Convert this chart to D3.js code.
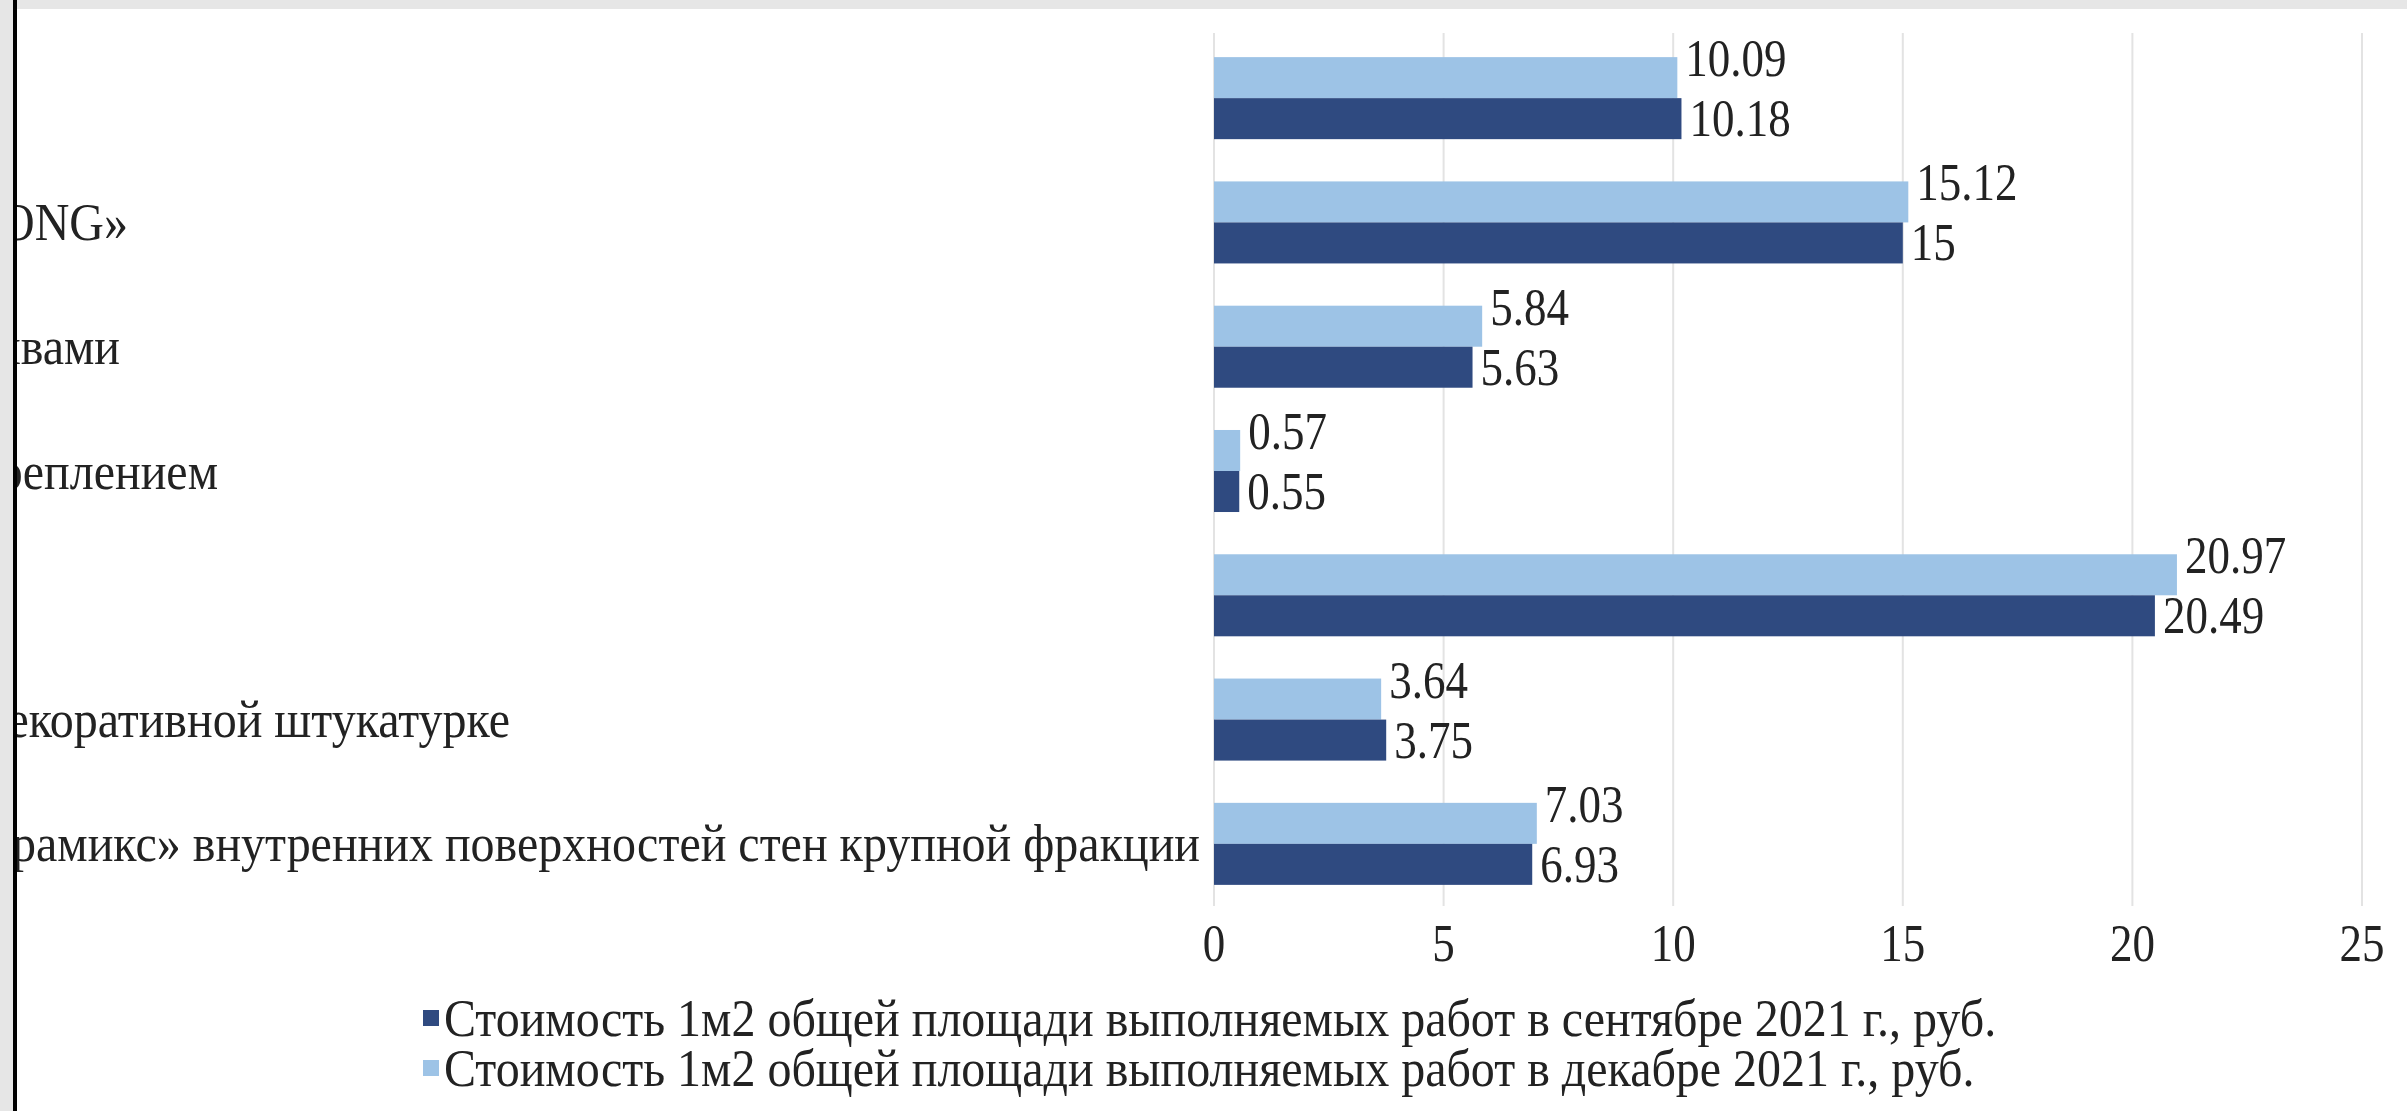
<!DOCTYPE html>
<html>
<head>
<meta charset="utf-8">
<script src="https://cdn.jsdelivr.net/npm/d3@7"></script>
<style>
  html, body { margin: 0; padding: 0; background: #fff; }
  svg { display: block; }
</style>
</head>
<body>
<svg id="chart" width="2407" height="1111"></svg>
<script>
// ---- data ----
const categories = ["cat1", "cat2", "cat3", "cat4", "cat5", "cat6", "cat7"];
const categoryLabels = ["", "ONG»", "швами", "креплением", "", "декоративной штукатурке", "Церамикс» внутренних поверхностей стен крупной фракции"];
const decValues = [10.09, 15.12, 5.84, 0.57, 20.97, 3.64, 7.03];
const sepValues = [10.18, 15, 5.63, 0.55, 20.49, 3.75, 6.93];
const decLabels = ["10.09", "15.12", "5.84", "0.57", "20.97", "3.64", "7.03"];
const sepLabels = ["10.18", "15", "5.63", "0.55", "20.49", "3.75", "6.93"];
const xTicks = [0, 5, 10, 15, 20, 25];
const legendLabels = [
  "Стоимость 1м2 общей площади выполняемых работ в сентябре 2021 г., руб.",
  "Стоимость 1м2 общей площади выполняемых работ в декабре 2021 г., руб."
];

// ---- styles ----
const W = 2407, H = 1111;
const colDark = "#2F4A80", colLight = "#9DC3E6";
const FONT = "'Liberation Serif', 'DejaVu Serif', serif";

const svg = d3.select("#chart");

// frame
svg.append("rect").attr("x", 0).attr("y", 0).attr("width", W).attr("height", H).attr("fill", "#fff");
svg.append("rect").attr("x", 0).attr("y", 0).attr("width", W).attr("height", 9).attr("fill", "#E6E6E6");
svg.append("rect").attr("x", 0).attr("y", 0).attr("width", 13).attr("height", H).attr("fill", "#E6E6E6");

const defs = svg.append("defs");
defs.append("clipPath").attr("id", "clipL")
  .append("rect").attr("x", 17).attr("y", 9).attr("width", W).attr("height", H);

const x = d3.scaleLinear().domain([0, 25]).range([1214, 2362]);
const y = d3.scaleBand().domain(categories).range([36, 906]).paddingInner(0.34).paddingOuter(0.17);
const sub = d3.scaleBand().domain(["dec", "sep"]).range([0, y.bandwidth()]);

function stext(g, tx, cy, str, anchor, fs, sy) {
  // cy = visual vertical centre of capitals
  return g.append("text")
    .attr("transform", `translate(${tx},${cy + 17.5}) scale(1,${sy})`)
    .attr("font-family", FONT)
    .attr("font-size", fs)
    .attr("fill", "#222")
    .attr("text-anchor", anchor || "start")
    .text(str);
}
const NUM_FS = 45, NUM_SY = 1.17;
const TXT_FS = 48, TXT_SY = 1.1;

// gridlines
const grid = svg.append("g");
grid.selectAll("line").data(xTicks).join("line")
  .attr("x1", d => x(d)).attr("x2", d => x(d))
  .attr("y1", 33).attr("y2", 906)
  .attr("stroke", "#E3E3E3").attr("stroke-width", 2);

// bars
const bars = svg.append("g");
categories.forEach((c, i) => {
  bars.append("rect")
    .attr("x", x(0)).attr("y", y(c) + sub("dec"))
    .attr("width", x(decValues[i]) - x(0)).attr("height", sub.bandwidth())
    .attr("fill", colLight);
  bars.append("rect")
    .attr("x", x(0)).attr("y", y(c) + sub("sep"))
    .attr("width", x(sepValues[i]) - x(0)).attr("height", sub.bandwidth())
    .attr("fill", colDark);
});

// data labels
const lab = svg.append("g");
categories.forEach((c, i) => {
  const cyDec = y(c) + sub("dec") + sub.bandwidth() / 2 - 19;
  const cySep = y(c) + sub("sep") + sub.bandwidth() / 2;
  stext(lab, x(decValues[i]) + 8, cyDec, decLabels[i], "start", NUM_FS, NUM_SY);
  stext(lab, x(sepValues[i]) + 8, cySep, sepLabels[i], "start", NUM_FS, NUM_SY);
});

// x tick labels
const ticks = svg.append("g");
xTicks.forEach(t => stext(ticks, x(t), 943, String(t), "middle", NUM_FS, NUM_SY));

// category labels (left-clipped)
const labelRight = [0, 128, 120, 218, 0, 510, 1200];
const cl = svg.append("g").attr("clip-path", "url(#clipL)");
categories.forEach((c, i) => {
  if (!categoryLabels[i]) return;
  stext(cl, labelRight[i], y(c) + y.bandwidth() / 2, categoryLabels[i], "end", TXT_FS, TXT_SY);
});

// left black rule
svg.append("rect").attr("x", 13).attr("y", 0).attr("width", 4).attr("height", H).attr("fill", "#000");

// legend
const lg = svg.append("g");
const legendY = [1018, 1068];
[colDark, colLight].forEach((col, i) => {
  lg.append("rect").attr("x", 423).attr("y", legendY[i] - 8).attr("width", 16).attr("height", 16).attr("fill", col);
  stext(lg, 444, legendY[i], legendLabels[i], "start", TXT_FS, TXT_SY);
});
</script>
</body>
</html>
